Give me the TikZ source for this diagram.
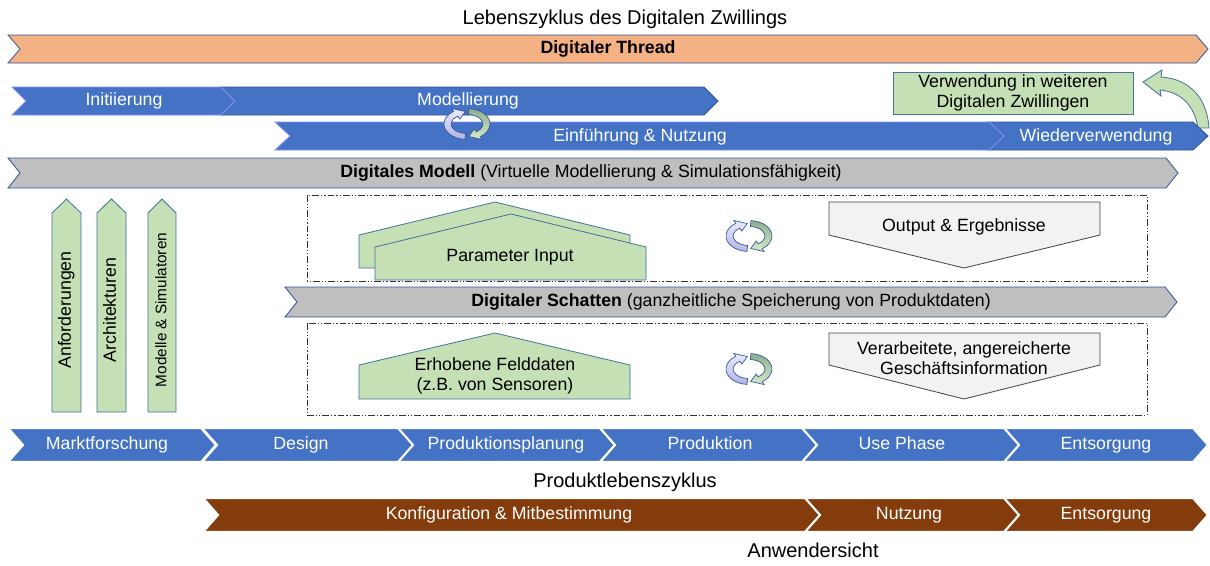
\documentclass[tikz,border=0pt]{standalone}
\usepackage{fontspec}
\setmainfont{Liberation Sans}
\definecolor{bandblue}{HTML}{4472C4}
\definecolor{edgeblue}{HTML}{2F5597}
\definecolor{threadorange}{HTML}{F4B183}
\definecolor{modelgray}{HTML}{BFBFBF}
\definecolor{leafgreen}{HTML}{C5E0B4}
\definecolor{greenedge}{HTML}{41719C}
\definecolor{userbrown}{HTML}{843C0C}
\definecolor{outgray}{HTML}{F2F2F2}
% chevron: [depth]{style}{x left}{x right}{y top}{y bottom}
\newcommand{\chev}[6][14]{%
  \filldraw[#2] (#3,#5) -- ({#4-#1},#5) -- (#4,{0.5*(#5+#6)}) -- ({#4-#1},#6)
  -- (#3,#6) -- ({#3+#1},{0.5*(#5+#6)}) -- cycle;}
\tikzset{
  band/.style={draw=edgeblue, line width=0.6pt},
  blueband/.style={band, fill=bandblue},
  stageband/.style={fill=bandblue, draw=white, line width=1.6pt},
  userband/.style={fill=userbrown, draw=white, line width=1.6pt},
  multi/.style={font=\fontsize{13.3}{15}\selectfont, inner sep=0pt, align=center},
  txt/.style={font=\fontsize{13.3}{15}\selectfont, inner sep=0pt, text height=9.5pt, text depth=2.5pt},
  bandtext/.style={txt, text=white},
  bigtxt/.style={font=\fontsize{15}{18}\selectfont, inner sep=0pt, text height=11pt, text depth=3pt},
  greenshape/.style={fill=leafgreen, draw=greenedge, line width=0.6pt},
  outshape/.style={fill=outgray, draw=black!75, line width=0.6pt},
  frame/.style={draw=black!80, line width=0.5pt,
    dash pattern=on 5pt off 1.5pt on 1pt off 1.5pt on 1pt off 1.5pt},
  cyclearrows/.pic={
    \draw[edgeblue, line width=0.5pt, top color=blue!8!white, bottom color=black!40!blue!30!white]
      (95:23 and 15.5) arc[start angle=95, end angle=235, x radius=23, y radius=15.5]
      -- (235:26.5 and 19) -- (265:19.5 and 12.5) -- (235:12.5 and 6)
      -- (235:16 and 9.5) arc[start angle=235, end angle=95, x radius=16, y radius=9.5] -- cycle;
    \draw[edgeblue, line width=0.5pt, top color=green!30!black!45!white, bottom color=leafgreen!70!white]
      (275:23 and 15.5) arc[start angle=275, end angle=415, x radius=23, y radius=15.5]
      -- (415:26.5 and 19) -- (445:19.5 and 12.5) -- (415:12.5 and 6)
      -- (415:16 and 9.5) arc[start angle=415, end angle=275, x radius=16, y radius=9.5] -- cycle;
  }
}
\begin{document}
\begin{tikzpicture}[x=0.75pt, y=-0.75pt]
\useasboundingbox (0,0) rectangle (1210,565);
\node[bigtxt] (title) at (625,19) {Lebenszyklus des Digitalen Zwillings};
\chev[12]{band, fill=threadorange}{8}{1208}{35}{63}
\node[txt, font=\fontsize{13.3}{15}\selectfont\bfseries] (thread) at (608,49) {Digitaler Thread};
\chev{blueband}{221}{718}{87}{115}
\chev{blueband, draw=blue!45!white}{12}{235}{87}{115}
\node[bandtext] (init) at (124,101) {Initiierung};
\node[bandtext] (model) at (468,101) {Modellierung};
\filldraw[greenshape] (893,72) rectangle (1133,114);
\node[multi] (reuse) at (1013,93) {Verwendung in weiteren\\Digitalen Zwillingen};
\filldraw[greenshape] (1198,128) .. controls (1194,104) and (1180,92) .. (1160,90) -- (1161,96)
  -- (1143,82) -- (1162,70) -- (1161,77) .. controls (1190,79) and (1207,98) .. (1209,128) -- cycle;
\chev[15]{blueband}{988}{1208}{122}{150}
\chev[15]{blueband, draw=blue!45!white}{275}{1004}{122}{150}
\node[bandtext] (intro) at (640,137) {Einführung \& Nutzung};
\node[bandtext] (again) at (1096,137) {Wiederverwendung};
\pic at (467,124) {cyclearrows};
\chev[12]{band, fill=modelgray}{8}{1178}{158}{188}
\node[txt] (model2) at (591,173) {\textbf{Digitales Modell} (Virtuelle Modellierung \& Simulationsfähigkeit)};
\foreach \xl/\xr/\nm/\fs/\lbl in {52/81/req/13.3/Anforderungen, 97/126/arch/13.3/Architekturen,
  148/176/sim/11.5/{Modelle \& Simulatoren}}{
  \filldraw[greenshape] (\xl,412) -- (\xl,213) -- ({0.5*(\xl+\xr)},199) -- (\xr,213) -- (\xr,412) -- cycle;
  \node[inner sep=0pt, rotate=90, text height=9pt, text depth=2.5pt, font=\fontsize{\fs}{15}\selectfont] (\nm) at ({0.5*(\xl+\xr)},310) {\lbl};
}
\draw[frame] (307,195) rectangle (1147,281);
\filldraw[greenshape] (359,268) -- (359,235) -- (495,202) -- (630,235) -- (630,268) -- cycle;
\filldraw[greenshape] (375,280) -- (375,247) -- (511,214) -- (646,247) -- (646,280) -- cycle;
\node[txt] (param) at (510,257) {Parameter Input};
\pic at (749,236) {cyclearrows};
\filldraw[outshape] (829,202) -- (1100,202) -- (1100,235) -- (964,268) -- (829,235) -- cycle;
\node[txt] (result) at (964,227) {Output \& Ergebnisse};
\chev[12]{band, fill=modelgray}{285}{1177}{287}{317}
\node[txt] (shadow) at (731,302) {\textbf{Digitaler Schatten} (ganzheitliche Speicherung von Produktdaten)};
\draw[frame] (307,323) rectangle (1147,415);
\filldraw[greenshape] (359,399) -- (359,365) -- (495,333) -- (630,365) -- (630,399) -- cycle;
\node[multi] (field) at (495,376) {Erhobene Felddaten\\(z.B. von Sensoren)};
\pic at (749,369) {cyclearrows};
\filldraw[outshape] (829,333) -- (1100,333) -- (1100,365) -- (964,399) -- (829,365) -- cycle;
\node[multi] (info) at (964,358) {Verarbeitete, angereicherte\\Geschäftsinformation};
\foreach \xl/\xr/\xt/\nm/\lbl in {8/216/107/market/Marktforschung, 202/414/301/design/Design,
  398/615/506/plan/Produktionsplanung, 600/818/710/prod/Produktion,
  802/1020/902/use/Use Phase, 1004/1208/1106/disp/Entsorgung}{
  \chev[15]{stageband}{\xl}{\xr}{428}{462}
  \node[bandtext] (\nm) at (\xt,445) {\lbl};
}
\node[bigtxt] (plc) at (625,482) {Produktlebenszyklus};
\foreach \xl/\xr/\xt/\nm/\lbl in {203/821/509/config/{Konfiguration \& Mitbestimmung},
  805/1020/909/usage/Nutzung, 1004/1208/1106/disp2/Entsorgung}{
  \chev[15]{userband}{\xl}{\xr}{498}{532}
  \node[bandtext] (\nm) at (\xt,515) {\lbl};
}
\node[bigtxt] (user) at (813,552) {Anwendersicht};
\end{tikzpicture}
\end{document}
